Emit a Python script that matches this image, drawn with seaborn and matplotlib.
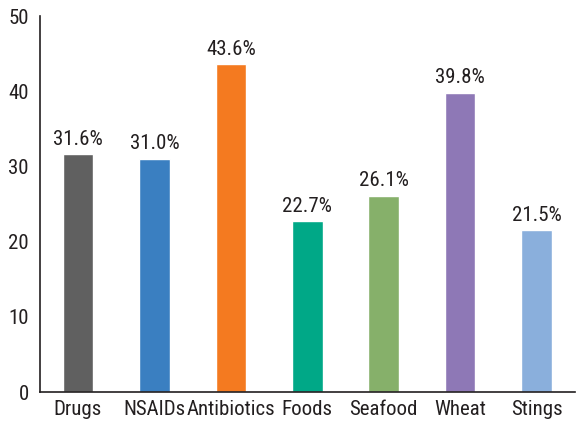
import numpy as np
import pandas as pd
import seaborn as sns
import matplotlib.pyplot as plt
from matplotlib import font_manager

# Data
categories = ['Drugs', 'NSAIDs', 'Antibiotics', 'Foods', 'Seafood', 'Wheat', 'Stings']
percent = [31.6, 31.0, 43.6, 22.7, 26.1, 39.8, 21.5]
colors = ['#606060', '#3a7fc1', '#f47a20', '#00a887', '#86b06a', '#8e78b6', '#8aafdc']

sns.set_style('white')
names = {f.name for f in font_manager.fontManager.ttflist}
family = 'Roboto Condensed' if 'Roboto Condensed' in names else 'PT Sans Narrow'
plt.rcParams['font.family'] = [family, 'DejaVu Sans']

df = pd.DataFrame({'category': categories, 'percent': percent})

fig = plt.figure(figsize=(5.76, 4.23), dpi=100)
ax = fig.add_axes([0.069, 0.073, 0.929, 0.889])

sns.barplot(data=df, x='category', y='percent', hue='category',
            palette=colors, width=0.4, saturation=1, legend=False, ax=ax)

for cont in ax.containers:
    ax.bar_label(cont, fmt='%.1f%%', padding=4, fontsize=15, color='#231f20')

ax.set_xlim(-0.5, len(categories) - 0.5)
ax.set_ylim(0, 50)
ax.set_yticks(range(0, 51, 10))
ax.set_xlabel('')
ax.set_ylabel('')

sns.despine(ax=ax)
for side in ['left', 'bottom']:
    ax.spines[side].set_color('#231f20')
    ax.spines[side].set_linewidth(1.2)

ax.tick_params(axis='x', which='major', length=0, labelsize=15, pad=6, colors='#231f20')
ax.set_xticks(np.arange(0.5, len(categories), 1), minor=True)
ax.tick_params(axis='x', which='minor', direction='in', length=6, width=1.2, color='#231f20')
ax.tick_params(axis='y', direction='in', length=7, width=1.2, labelsize=15, pad=8,
               colors='#231f20')

fig.savefig('out.png', dpi=100)
